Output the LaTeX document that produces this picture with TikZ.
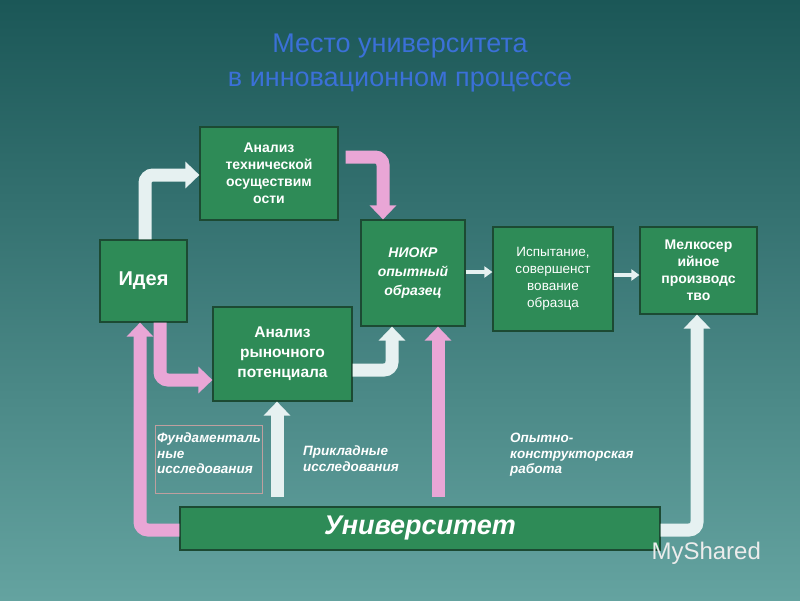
\documentclass[tikz,border=0pt]{standalone}
\usepackage{fontspec}
\setmainfont{Liberation Sans}
\usetikzlibrary{arrows.meta}
\definecolor{bx}{HTML}{2E8B57}
\definecolor{bxd}{HTML}{1C4A33}
\definecolor{pk}{HTML}{E9A6D6}
\definecolor{wh}{HTML}{E6F1F1}
\definecolor{tt}{HTML}{3B70D8}
\definecolor{bgt}{HTML}{1B5757}
\definecolor{bgb}{HTML}{64A3A0}
\begin{document}
\begin{tikzpicture}[x=1pt,y=-1pt,
  box/.style={draw=bxd,line width=1.2pt,fill=bx,text=white,font=\bfseries\fontsize{14}{17}\selectfont,align=center,inner sep=2pt},
  wa/.style={line width=13pt,draw=wh,rounded corners=8pt,-{Triangle[width=26pt,length=14pt]}},
  pa/.style={line width=13pt,draw=pk,rounded corners=8pt,-{Triangle[width=26pt,length=14pt]}},
  sa/.style={line width=4pt,draw=wh,-{Triangle[width=11pt,length=8pt]}},
  lab/.style={text=white,font=\bfseries\itshape\fontsize{13.5}{15.5}\selectfont,align=left,anchor=north west,inner sep=0pt}]
\shade[top color=bgt,bottom color=bgb] (0,0) rectangle (800,600);
\useasboundingbox (0,0) rectangle (800,600);
\node[text=tt,font=\fontsize{27}{34}\selectfont,align=center] (title) at (400,63) {Место университета\\в инновационном процессе};
\node[box,minimum width=87pt,minimum height=82pt,font=\bfseries\fontsize{20}{22}\selectfont] (idea) at (143.5,281) {Идея};
\node[box,minimum width=138pt,minimum height=93pt] (tech) at (269,173.5) {Анализ\\технической\\осуществим\\ости};
\node[box,minimum width=104pt,minimum height=106pt,font=\bfseries\itshape\fontsize{14}{19}\selectfont] (niokr) at (413,273) {НИОКР\\опытный\\образец};
\node[box,minimum width=139pt,minimum height=94pt,font=\bfseries\fontsize{15.5}{20}\selectfont] (market) at (282.5,354) {Анализ\\рыночного\\потенциала};
\node[box,minimum width=120pt,minimum height=104pt,font=\fontsize{13.5}{17}\selectfont] (test) at (553,279) {Испытание,\\совершенст\\вование\\образца};
\node[box,minimum width=117pt,minimum height=87pt] (prod) at (698.5,270.5) {Мелкосер\\ийное\\производс\\тво};
\node[box,minimum width=480pt,minimum height=43pt,font=\bfseries\itshape\fontsize{27}{30}\selectfont] (univ) at (420,528.5) {Университет};
\draw[draw=pink!50!gray,line width=0.6pt] (155,425) rectangle (262,493);
\coordinate (c1) at (145,175); \coordinate (c2) at (383,157);
\coordinate (c3) at (160,380); \coordinate (c4) at (392,370);
\coordinate (c5) at (140,530); \coordinate (c6) at (697,530);
\draw[wa] (idea.north -| 145,0) |- (tech.west |- c1);
\draw[pa] (tech.east |- c2) ++(7,0) -| (niokr.north -| c2);
\draw[pa] (idea.south -| c3) |- (market.west |- c3);
\draw[wa] (market.east |- c4) -| (niokr.south -| c4);
\draw[pa] (univ.west |- c5) -| (idea.south -| c5);
\draw[wa] (277,497) coordinate (u1) -- (market.south -| u1);
\draw[pa] (438,497) coordinate (u2) -- (niokr.south -| u2);
\draw[wa] (univ.east |- c6) -| (prod.south -| c6);
\draw[sa] (niokr.east |- 0,272) -- (test.west |- 0,272);
\draw[sa] (test.east |- 0,275) -- (prod.west |- 0,275);
\node[lab] (l1) at (157,433) {Фундаменталь\\ные\\исследования};
\node[lab] (l2) at (303,446) {Прикладные\\исследования};
\node[lab] (l3) at (510,433) {Опытно-\\конструкторская\\работа};
\node[text=white!85!gray,font=\fontsize{24}{26}\selectfont,anchor=west] (ms) at (648,553) {MyShared};
\end{tikzpicture}
\end{document}
